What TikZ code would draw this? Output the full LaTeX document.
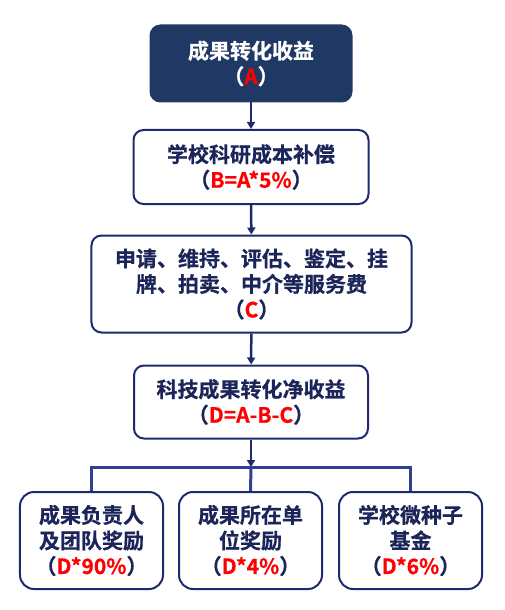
\documentclass[tikz,border=0pt]{standalone}
\usepackage{fontspec}
\newfontfamily\cjk{Noto Sans CJK SC}[BoldFont={* Bold}, BoldFeatures={FakeBold=0.6}]
\usetikzlibrary{arrows.meta}
\definecolor{navy}{HTML}{1F3864}
\definecolor{navyline}{HTML}{1F2A6E}
\definecolor{barblue}{HTML}{2E3F95}
\definecolor{txtnavy}{HTML}{1B2559}
\definecolor{red}{HTML}{FF0000}
\tikzset{
  box/.style={draw=navyline, line width=2bp, rounded corners=10bp, fill=white,
    align=center, text=txtnavy, inner sep=0pt,
    font=\cjk\bfseries\fontsize{21bp}{25.5bp}\selectfont},
  topbox/.style={box, fill=navy, draw=navy, text=white},
  leaf/.style={box, rounded corners=14bp, minimum width=143bp, minimum height=97bp},
  arr/.style={draw=navyline, line width=2.5bp, -{Triangle[length=7bp,width=8bp]}},
  bar/.style={draw=barblue, line width=3bp}
}
\newcommand{\rd}[1]{\textcolor{red}{#1}}
\begin{document}
\begin{tikzpicture}[x=1bp,y=-1bp]
\useasboundingbox (0,0) rectangle (505,610);
\node[topbox, minimum width=201bp, minimum height=76bp] (A) at (251,63.5) {成果转化收益\\（\rd{A}）};
\node[box, minimum width=235bp, minimum height=74bp] (B) at (251,167) {学校科研成本补偿\\（\rd{B=A*5\%}）};
\node[box, minimum width=320bp, minimum height=97bp] (C) at (251.5,284) {申请、维持、评估、鉴定、挂\\牌、拍卖、中介等服务费\\（\rd{C}）};
\node[box, minimum width=234bp, minimum height=73bp] (D) at (251,402) {科技成果转化净收益\\（\rd{D=A-B-C}）};
\node[leaf] (L1) at (91.5,540.5) {成果负责人\\及团队奖励\\（\rd{D*90\%}）};
\node[leaf] (L2) at (250.5,540.5) {成果所在单\\位奖励\\（\rd{D*4\%}）};
\node[leaf] (L3) at (410.5,540.5) {学校微种子\\基金\\（\rd{D*6\%}）};
\coordinate (J) at (251,467);
\coordinate (JL) at (L1.north |- J);
\coordinate (JR) at (L3.north |- J);
\draw[bar] (L1.north) -- (JL) -- (JR) -- (L3.north);
\draw[bar] (J) -- (L2.north);
\draw[arr] (A) -- (B);
\draw[arr] (B) -- (C);
\draw[arr] (C) -- (D);
\draw[arr] (D) -- (J);
\end{tikzpicture}
\end{document}
